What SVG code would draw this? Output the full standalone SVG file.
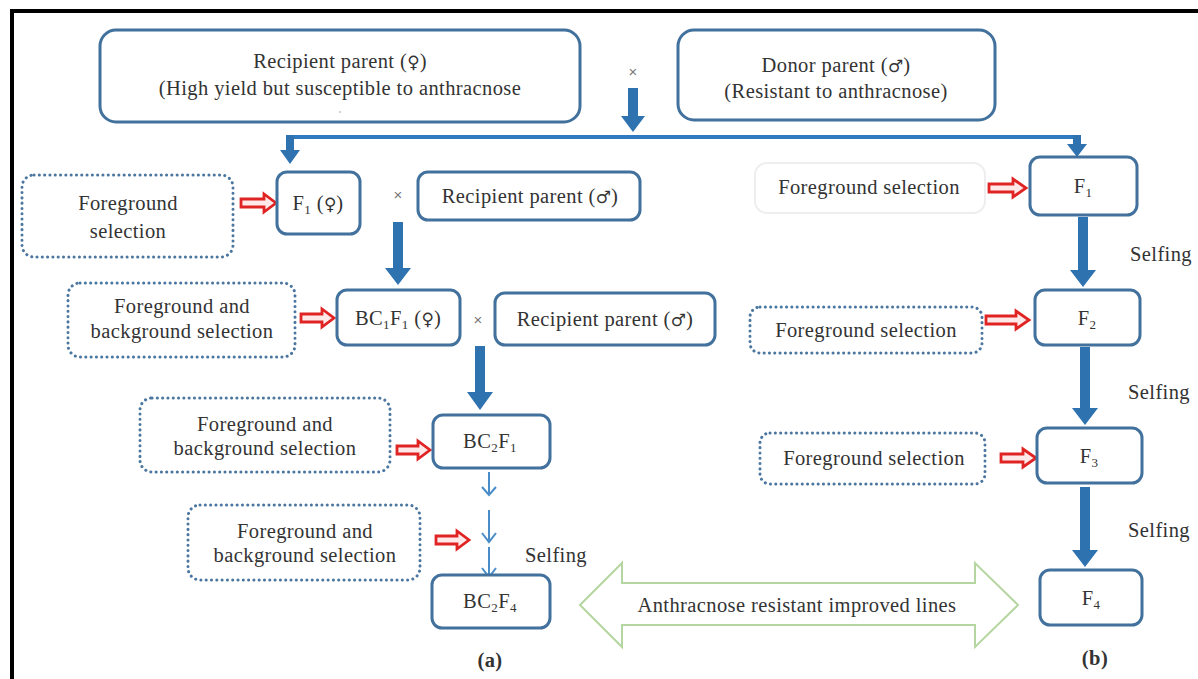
<svg xmlns="http://www.w3.org/2000/svg" width="1198" height="679" viewBox="0 0 1198 679">
<defs>
<style>
.t{font-family:"Liberation Serif","Times New Roman",serif;font-size:20.5px;letter-spacing:0.4px;fill:#333;text-anchor:middle}
.g{font-family:"DejaVu Sans",sans-serif;font-size:17px;letter-spacing:0}
.box{fill:#fff;stroke:#41719c;stroke-width:3}
.dot{fill:#fff;stroke:#4a76a0;stroke-width:3;stroke-linecap:round;stroke-dasharray:0.1 5.2}
.thick{fill:#2f72b0;stroke:none}
.line{fill:none;stroke:#2f7ac0;stroke-width:4}
.red{fill:#ffe8e8;stroke:#e02424;stroke-width:2.8;stroke-linejoin:miter}
.thin{fill:none;stroke:#4a8cc8;stroke-width:2}
.x{font-family:"Liberation Sans",Arial,sans-serif;font-size:15px;fill:#777;text-anchor:middle}
.sub{font-size:13px}
</style>
</defs>
<rect x="0" y="0" width="1198" height="679" fill="#fff"/>
<g id="frame">
<line x1="10" y1="11" x2="1198" y2="11" stroke="#000" stroke-width="4"/>
<line x1="12" y1="9" x2="12" y2="679" stroke="#000" stroke-width="4"/>
</g>

<g id="connectors">
<polygon class="thick" points="628,88 638,88 638,116 645,116 633,132 621,116 628,116"/>
<path class="line" d="M290,137 H1077"/>
<polygon class="thick" points="286,135 294,135 294,150 300,150 290,164 280,150 286,150"/>
<polygon class="thick" points="1073,135 1081,135 1081,144 1087,144 1077,157 1067,144 1073,144"/>
<polygon class="thick" points="393,222 403,222 403,268 411,268 398,285 385,268 393,268"/>
<polygon class="thick" points="475,346 485,346 485,392 493,392 480,410 467,392 475,392"/>
<path class="thin" d="M489,472 V494 M482,487 L489,495 L496,487"/>
<path class="thin" d="M489,510 V541 M482,533 L489,542 L496,533"/>
<path class="thin" d="M489,547 V576 M482,568 L489,577 L496,568"/>
<polygon class="thick" points="1078,217 1088,217 1088,270 1096,270 1083,287 1070,270 1078,270"/>
<polygon class="thick" points="1080,347 1090,347 1090,408 1098,408 1085,425 1072,408 1080,408"/>
<polygon class="thick" points="1080,487 1090,487 1090,550 1098,550 1085,567 1072,550 1080,550"/>
<polygon class="red" points="241,199 264,199 264,194 276,203 264,212 264,207 241,207"/>
<polygon class="red" points="301,314 322,314 322,309 334,318 322,327 322,322 301,322"/>
<polygon class="red" points="397,446 418,446 418,441 430,450 418,459 418,454 397,454"/>
<polygon class="red" points="436,536 457,536 457,531 469,540 457,549 457,544 436,544"/>
<polygon class="red" points="989,184 1013,184 1013,179 1026,188 1013,197 1013,192 989,192"/>
<polygon class="red" points="986,316 1016,316 1016,311 1029,320 1016,329 1016,324 986,324"/>
<polygon class="red" points="1001,454 1023,454 1023,449 1036,458 1023,467 1023,462 1001,462"/>
<polygon points="580,605 622,563 622,583 975,583 975,563 1018,605 975,647 975,625 622,625 622,647" fill="#fff" stroke="#b5d6a0" stroke-width="2"/>
</g>

<g id="recipient-top">
<rect class="box" x="100" y="30" width="480" height="92" rx="16"/>
<text class="t" x="340" y="68">Recipient parent (<tspan class="g">♀</tspan>)</text>
<text class="t" x="340" y="95">(High yield but susceptible to anthracnose</text>
<circle cx="340" cy="112" r="0.8" fill="#999"/>
</g>
<text class="x" x="633" y="77">×</text>
<g id="donor-top">
<rect class="box" x="678" y="30" width="317" height="90" rx="16"/>
<text class="t" x="836" y="72">Donor parent (<tspan class="g">♂</tspan>)</text>
<text class="t" x="836" y="98">(Resistant to anthracnose)</text>
</g>

<g id="fs-a1">
<rect class="dot" x="22" y="175" width="211" height="82" rx="12"/>
<text class="t" x="128" y="210">Foreground</text>
<text class="t" x="128" y="238">selection</text>
</g>
<g id="f1-female">
<rect class="box" x="277" y="172" width="83" height="62" rx="10"/>
<text class="t" x="318" y="210">F<tspan class="sub" dy="4">1</tspan><tspan dy="-4"> (</tspan><tspan class="g">♀</tspan>)</text>
</g>
<text class="x" x="398" y="200">×</text>
<g id="rp-male-1">
<rect class="box" x="418" y="172" width="222" height="48" rx="10"/>
<text class="t" x="530" y="203">Recipient parent (<tspan class="g">♂</tspan>)</text>
</g>
<g id="fbs-a2">
<rect class="dot" x="68" y="283" width="227" height="74" rx="12"/>
<text class="t" x="182" y="313">Foreground and</text>
<text class="t" x="182" y="338">background selection</text>
</g>
<g id="bc1f1">
<rect class="box" x="337" y="290" width="123" height="55" rx="10"/>
<text class="t" x="398" y="325">BC<tspan class="sub" dy="4">1</tspan><tspan dy="-4">F</tspan><tspan class="sub" dy="4">1</tspan><tspan dy="-4"> (</tspan><tspan class="g">♀</tspan>)</text>
</g>
<text class="x" x="478" y="325">×</text>
<g id="rp-male-2">
<rect class="box" x="495" y="293" width="220" height="52" rx="10"/>
<text class="t" x="605" y="326">Recipient parent (<tspan class="g">♂</tspan>)</text>
</g>
<g id="fbs-a3">
<rect class="dot" x="140" y="398" width="250" height="74" rx="12"/>
<text class="t" x="265" y="431">Foreground and</text>
<text class="t" x="265" y="455">background selection</text>
</g>
<g id="bc2f1">
<rect class="box" x="433" y="415" width="117" height="53" rx="10"/>
<text class="t" x="490" y="448">BC<tspan class="sub" dy="4">2</tspan><tspan dy="-4">F</tspan><tspan class="sub" dy="4">1</tspan></text>
</g>
<g id="fbs-a4">
<rect class="dot" x="188" y="505" width="232" height="75" rx="12"/>
<text class="t" x="305" y="538">Foreground and</text>
<text class="t" x="305" y="562">background selection</text>
</g>
<text class="t" x="556" y="562">Selfing</text>
<g id="bc2f4">
<rect class="box" x="432" y="575" width="118" height="53" rx="10"/>
<text class="t" x="490" y="608">BC<tspan class="sub" dy="4">2</tspan><tspan dy="-4">F</tspan><tspan class="sub" dy="4">4</tspan></text>
</g>
<text class="t" x="490" y="667" font-weight="bold">(a)</text>

<g id="improved-lines">
<text class="t" x="797" y="612">Anthracnose resistant improved lines</text>
</g>

<g id="fs-b1">
<rect x="755" y="163" width="230" height="50" rx="12" fill="#fff" stroke="#eeeeee" stroke-width="2"/>
<text class="t" x="869" y="194">Foreground selection</text>
</g>
<g id="f1">
<rect class="box" x="1030" y="157" width="107" height="58" rx="10"/>
<text class="t" x="1083" y="193">F<tspan class="sub" dy="4">1</tspan></text>
</g>
<text class="t" x="1161" y="261">Selfing</text>
<g id="fs-b2">
<rect class="dot" x="750" y="307" width="232" height="46" rx="10"/>
<text class="t" x="866" y="337">Foreground selection</text>
</g>
<g id="f2">
<rect class="box" x="1035" y="290" width="105" height="55" rx="10"/>
<text class="t" x="1087" y="325">F<tspan class="sub" dy="4">2</tspan></text>
</g>
<text class="t" x="1159" y="399">Selfing</text>
<g id="fs-b3">
<rect class="dot" x="760" y="433" width="225" height="51" rx="10"/>
<text class="t" x="874" y="465">Foreground selection</text>
</g>
<g id="f3">
<rect class="box" x="1037" y="428" width="105" height="55" rx="10"/>
<text class="t" x="1089" y="463">F<tspan class="sub" dy="4">3</tspan></text>
</g>
<text class="t" x="1159" y="537">Selfing</text>
<g id="f4">
<rect class="box" x="1040" y="570" width="102" height="55" rx="10"/>
<text class="t" x="1091" y="605">F<tspan class="sub" dy="4">4</tspan></text>
</g>
<text class="t" x="1095" y="665" font-weight="bold">(b)</text>
</svg>
